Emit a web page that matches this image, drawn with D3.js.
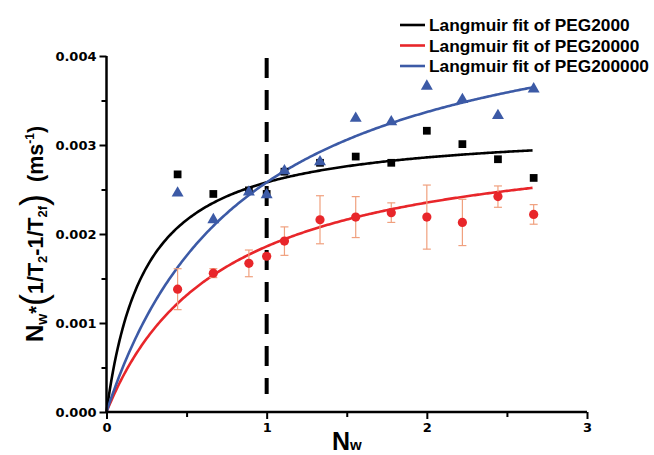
<!DOCTYPE html>
<html>
<head>
<meta charset="utf-8">
<script src="https://cdn.jsdelivr.net/npm/d3@7/dist/d3.min.js"></script>
<style>
  html, body { margin: 0; padding: 0; background: #fff; }
  svg { display: block; font-family: "Liberation Sans", Arial, sans-serif; }
</style>
</head>
<body>
<svg id="chart" width="654" height="455"></svg>
<script>
// Polymer weight fraction N_w
const nw = [0.444, 0.667, 0.889, 1.0, 1.111, 1.333, 1.556, 1.778, 2.0, 2.222, 2.444, 2.667];

// Measured N_w*(1/T2 - 1/T2f), ms^-1
const peg2000 = [0.00267, 0.00245, 0.00249, 0.00245, 0.00270, 0.00280, 0.00287, 0.00280, 0.00316, 0.00301, 0.00284, 0.00263];
const peg200000 = [0.00246, 0.00216, 0.00247, 0.00244, 0.00271, 0.00281, 0.00330, 0.00326, 0.00366, 0.00351, 0.00333, 0.00363];
const peg20000 = [0.00138, 0.00156, 0.00167, 0.00175, 0.00192, 0.00216, 0.00219, 0.00224, 0.00219, 0.00213, 0.00242, 0.00222];
const peg20000Err = [0.00023, 0.00005, 0.00015, 0.00003, 0.00016, 0.00027, 0.00023, 0.00011, 0.00036, 0.00026, 0.00012, 0.00011];

// Langmuir fit parameters: y = qmax * x / (kd + x)
const fitNames = ["Langmuir fit of PEG2000", "Langmuir fit of PEG20000", "Langmuir fit of PEG200000"];
const fitQmax = [0.003209, 0.00320, 0.004858];
const fitKd = [0.2436, 0.72, 0.883];
const fitColors = ["#000000", "#e8262a", "#3c5aa6"];

const xTicks = [0, 1, 2, 3];
const yTicks = [0, 0.001, 0.002, 0.003, 0.004];
const divider = 1;

const svg = d3.select("#chart");
const x = d3.scaleLinear().domain([0, 3]).range([106.5, 587]);
const y = d3.scaleLinear().domain([0, 0.004]).range([412, 56]);

// Fit curves
const xs = d3.range(0, 2.6675, 0.01);
const line = d3.line().x(d => x(d[0])).y(d => y(d[1]));
fitQmax.forEach((q, i) => {
  const pts = xs.map(v => [v, q * v / (fitKd[i] + v)]);
  svg.append("path").attr("d", line(pts))
    .attr("fill", "none").attr("stroke", fitColors[i]).attr("stroke-width", 2.6);
});

// Dashed divider at N_w = 1
svg.append("line")
  .attr("x1", x(divider)).attr("x2", x(divider))
  .attr("y1", 58).attr("y2", 394)
  .attr("stroke", "#000").attr("stroke-width", 4)
  .attr("stroke-dasharray", "20 12");

// PEG20000 error bars
const eb = svg.append("g").attr("stroke", "#f0a07e").attr("stroke-width", 1.2);
nw.forEach((v, i) => {
  const cx = x(v), lo = y(peg20000[i] - peg20000Err[i]), hi = y(peg20000[i] + peg20000Err[i]);
  eb.append("line").attr("x1", cx).attr("x2", cx).attr("y1", lo).attr("y2", hi);
  eb.append("line").attr("x1", cx - 4).attr("x2", cx + 4).attr("y1", lo).attr("y2", lo);
  eb.append("line").attr("x1", cx - 4).attr("x2", cx + 4).attr("y1", hi).attr("y2", hi);
});

// Data markers
const sq = d3.symbol().type(d3.symbolSquare).size(60);
const tri = d3.symbol().type(d3.symbolTriangle).size(62);
svg.append("g").selectAll("path").data(nw).join("path")
  .attr("d", sq).attr("fill", "#000")
  .attr("transform", (v, i) => `translate(${x(v)},${y(peg2000[i])})`);
svg.append("g").selectAll("path").data(nw).join("path")
  .attr("d", tri).attr("fill", "#3c5aa6")
  .attr("transform", (v, i) => `translate(${x(v)},${y(peg200000[i])})`);
svg.append("g").selectAll("circle").data(nw).join("circle")
  .attr("cx", v => x(v)).attr("cy", (v, i) => y(peg20000[i]))
  .attr("r", 4.6).attr("fill", "#e8262a");

// Axes
const xAxis = svg.append("g").attr("transform", "translate(0,412)")
  .call(d3.axisBottom(x).tickValues(xTicks).tickFormat(d3.format("d")).tickSize(7).tickPadding(4));
svg.append("g").attr("transform", "translate(0,412)")
  .call(d3.axisBottom(x).tickValues([0.5, 1.5, 2.5]).tickFormat("").tickSize(5))
  .select(".domain").remove();
const yAxis = svg.append("g").attr("transform", "translate(106.5,0)")
  .call(d3.axisLeft(y).tickValues(yTicks).tickFormat(d3.format(".3f")).tickSize(7).tickPadding(3));
svg.append("g").attr("transform", "translate(106.5,0)")
  .call(d3.axisLeft(y).tickValues([0.0005, 0.0015, 0.0025, 0.0035]).tickFormat("").tickSize(5))
  .select(".domain").remove();

svg.selectAll(".domain").attr("stroke", "#000").attr("stroke-width", 2.5);
svg.selectAll(".tick line").attr("stroke", "#000").attr("stroke-width", 2);
svg.selectAll(".tick text").attr("font-family", "'DejaVu Sans', sans-serif")
  .attr("font-size", 13).attr("font-weight", "bold").attr("fill", "#000");
xAxis.selectAll(".domain").attr("d", `M${x(0)},0H${x(3)}`);
yAxis.selectAll(".domain").attr("d", `M0,${y(0)}V${y(0.004)}`);

// X axis title
const xt = svg.append("text").attr("x", x(1.5)).attr("y", 450)
  .attr("text-anchor", "middle").attr("font-weight", "bold").attr("fill", "#000");
xt.append("tspan").attr("font-size", 25).text("N");
xt.append("tspan").attr("font-size", 15).text("w");

// Y axis title
const yt = svg.append("text")
  .attr("transform", "translate(43,234) rotate(-90)")
  .attr("text-anchor", "middle").attr("font-weight", "bold").attr("fill", "#000");
yt.append("tspan").attr("font-size", 24).text("N");
yt.append("tspan").attr("font-size", 14).attr("dy", 4).text("w");
yt.append("tspan").attr("font-size", 20).attr("dy", -4).text("*");
yt.append("tspan").attr("font-size", 36).attr("font-weight", "normal").attr("dy", 3).text("(");
yt.append("tspan").attr("font-size", 21.5).attr("dy", -3).text("1/T");
yt.append("tspan").attr("font-size", 13).attr("dy", 4).text("2");
yt.append("tspan").attr("font-size", 21.5).attr("dy", -4).text("-1/T");
yt.append("tspan").attr("font-size", 13).attr("dy", 4).text("2f");
yt.append("tspan").attr("font-size", 36).attr("font-weight", "normal").attr("dy", -1).text(")");
yt.append("tspan").attr("font-size", 21.5).attr("dy", -3).text("\u00a0\u00a0(ms");
yt.append("tspan").attr("font-size", 12).attr("dy", -9).text("-1");
yt.append("tspan").attr("font-size", 21.5).attr("dy", 9).text(")");

// Legend
const lg = svg.append("g");
fitNames.forEach((name, i) => {
  const ly = 25 + i * 20.5;
  lg.append("line").attr("x1", 400).attr("x2", 425).attr("y1", ly).attr("y2", ly)
    .attr("stroke", fitColors[i]).attr("stroke-width", 2.6);
  lg.append("text").attr("x", 429).attr("y", ly + 6)
    .attr("font-size", 17.3).attr("font-weight", "bold").attr("fill", "#000").text(name);
});
</script>
</body>
</html>
